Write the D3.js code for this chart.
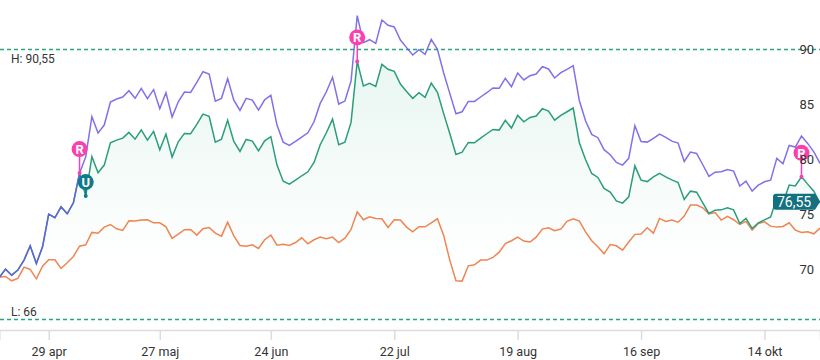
<!DOCTYPE html>
<html>
<head>
<meta charset="utf-8">
<script src="https://cdn.jsdelivr.net/npm/d3@7"></script>
<style>
  html, body { margin: 0; padding: 0; background: #fff; overflow: hidden; }
  svg { display: block; font-family: Roboto, sans-serif; }
</style>
</head>
<body>
<svg id="chart" width="820" height="360"></svg>
<script>
// one value per trading day
const purpleValues = [
  69.82, 70.58, 70.03, 70.49, 71.40, 72.70, 71.09, 72.61, 75.58, 75.25,
  76.25, 75.61, 76.61, 79.31, 80.80, 84.44, 82.95, 83.68, 85.77, 86.05,
  86.23, 86.80, 86.11, 87.02, 86.08, 86.90, 85.17, 86.62, 84.41, 85.80,
  86.68, 86.65, 87.56, 88.53, 88.32, 85.86, 86.11, 87.90, 85.95, 85.01,
  86.11, 85.95, 85.04, 85.98, 86.38, 83.68, 82.13, 81.83, 82.19, 82.59,
  82.98, 83.98, 85.65, 86.71, 88.02, 85.59, 85.86, 87.68, 93.63, 91.17,
  91.44, 91.11, 93.23, 92.75, 92.60, 91.41, 90.72, 90.05, 90.53, 90.11,
  91.47, 90.56, 88.44, 86.56, 84.71, 84.89, 85.83, 85.83, 86.23, 86.62,
  87.05, 87.02, 87.93, 87.17, 88.41, 87.78, 88.17, 88.32, 88.99, 88.78,
  87.96, 88.44, 88.75, 89.08, 85.89, 84.07, 82.83, 82.53, 81.44, 80.98,
  80.28, 80.04, 80.65, 83.62, 82.19, 82.13, 82.47, 82.86, 82.56, 82.22,
  82.04, 80.37, 81.22, 81.10, 80.07, 79.01, 79.40, 79.43, 79.64, 79.49,
  78.13, 78.58, 77.67, 78.22, 78.52, 78.67, 80.65, 80.16, 81.83, 81.68,
  82.68, 82.01, 81.25, 80.19
];

const greenValues = [
  69.82, 70.58, 70.03, 70.49, 71.40, 72.70, 71.09, 72.61, 75.58, 75.25,
  76.25, 75.61, 76.61, 79.31, 77.22, 80.80, 79.34, 80.04, 82.07, 82.31,
  82.49, 83.01, 82.40, 83.25, 82.31, 83.10, 81.43, 82.86, 80.77, 82.16,
  82.92, 82.89, 83.74, 84.68, 84.47, 82.13, 82.40, 84.11, 82.19, 81.28,
  82.37, 82.22, 81.34, 82.25, 82.62, 80.04, 78.58, 78.31, 78.67, 79.07,
  79.43, 80.28, 81.89, 82.98, 84.22, 81.89, 82.13, 83.92, 89.47, 87.23,
  87.47, 87.20, 89.20, 88.75, 88.56, 87.41, 86.74, 86.11, 86.62, 86.20,
  87.50, 86.65, 84.74, 82.92, 81.01, 81.22, 82.10, 82.07, 82.49, 82.89,
  83.28, 83.22, 84.11, 83.41, 84.56, 83.98, 84.37, 84.50, 85.17, 84.95,
  84.13, 84.56, 84.89, 85.23, 82.07, 80.55, 79.28, 78.92, 77.92, 77.58,
  76.79, 76.58, 77.15, 79.97, 78.67, 78.54, 78.97, 79.28, 78.97, 78.70,
  78.46, 76.92, 77.67, 77.58, 76.61, 75.64, 75.94, 75.97, 76.15, 75.97,
  74.73, 75.19, 74.28, 74.79, 75.06, 75.33, 77.03, 76.58, 78.22, 78.15,
  78.97, 78.31, 77.67, 76.58
];

const orangeValues = [
  69.85, 69.91, 69.52, 69.73, 70.76, 70.55, 69.70, 70.85, 71.43, 71.43,
  70.64, 71.16, 71.73, 72.67, 72.79, 73.92, 73.85, 74.40, 74.64, 74.25,
  74.10, 74.98, 74.95, 75.04, 75.07, 74.79, 74.79, 74.43, 73.37, 73.76,
  74.16, 74.19, 73.67, 74.25, 74.37, 73.85, 73.58, 74.85, 73.61, 72.73,
  72.67, 72.79, 72.46, 73.25, 73.67, 72.76, 72.85, 72.73, 73.00, 73.43,
  72.88, 73.25, 73.49, 73.34, 73.49, 73.00, 73.40, 74.19, 75.79, 75.07,
  75.34, 75.19, 75.16, 74.37, 75.07, 75.04, 74.40, 73.97, 74.43, 74.43,
  74.79, 75.16, 73.67, 71.40, 69.52, 69.49, 70.88, 70.97, 71.40, 71.40,
  71.64, 72.12, 72.91, 73.16, 73.49, 73.13, 73.04, 73.49, 74.22, 74.34,
  74.07, 74.22, 74.92, 75.16, 74.95, 73.97, 73.16, 72.61, 71.97, 72.82,
  72.70, 72.31, 73.04, 73.74, 73.77, 74.34, 73.85, 75.19, 74.92, 75.04,
  74.85, 75.40, 76.40, 76.40, 76.16, 75.61, 75.73, 75.04, 75.37, 75.07,
  74.64, 74.92, 74.13, 74.73, 74.88, 74.49, 74.40, 74.46, 74.79, 74.13,
  73.92, 73.97, 73.79, 74.31
];

const xTickDays = [8, 26, 44, 64, 84, 104, 124];
const xTickLabels = ["29 apr", "27 maj", "24 jun", "22 jul", "19 aug", "16 sep", "14 okt"];
const yTicks = [70, 75, 80, 85, 90];

const highValue = 90.55;
const lowValue = 66;
const lastValue = 76.55;
const rMarkerDays = [13, 58, 130];
const uMarkerDays = [14];

const numberFormat = (v) => String(v).replace(".", ",");

const width = 820;
const height = 360;
const axisY = 330;

const x = d3.scaleLinear().domain([0, purpleValues.length - 1]).range([-0.66, width]);
const y = d3.scaleLinear().domain([lowValue, highValue]).range([319.5, 49.5]);

const svg = d3.select("#chart");

const grad = svg.append("defs").append("linearGradient")
  .attr("id", "area-grad")
  .attr("gradientUnits", "userSpaceOnUse")
  .attr("x1", 0).attr("x2", 0)
  .attr("y1", y(89.5)).attr("y2", 265);
grad.append("stop").attr("offset", "0%").attr("stop-color", "#1aa878").attr("stop-opacity", 0.1);
grad.append("stop").attr("offset", "100%").attr("stop-color", "#1aa878").attr("stop-opacity", 0);

// area under the green line
const area = d3.area()
  .x((d, i) => x(i))
  .y0(axisY)
  .y1((d) => y(d));

svg.append("path").datum(greenValues).attr("d", area).attr("fill", "url(#area-grad)");

// H / L lines
[highValue, lowValue].forEach((v) => {
  svg.append("line")
    .attr("x1", 0).attr("x2", width)
    .attr("y1", y(v)).attr("y2", y(v))
    .attr("stroke", "#2aa582")
    .attr("stroke-width", 1.5)
    .attr("stroke-dasharray", "4 3");
});

const line = d3.line().x((d, i) => x(i)).y((d) => y(d));

svg.append("path").datum(orangeValues).attr("d", line)
  .attr("fill", "none").attr("stroke", "#ee8552").attr("stroke-width", 1.5);
svg.append("path").datum(greenValues).attr("d", line)
  .attr("fill", "none").attr("stroke", "#2a9d7c").attr("stroke-width", 1.5);
svg.append("path").datum(purpleValues).attr("d", line)
  .attr("fill", "none").attr("stroke", "#6a58e6").attr("stroke-width", 1.5).attr("stroke-opacity", 0.85);

// markers, head sits above the point on the green line
function marker(day, letter, color, lift, r) {
  const g = svg.append("g").attr("transform", `translate(${x(day)},${y(greenValues[day])})`);
  g.append("line").attr("y1", 0).attr("y2", -lift).attr("stroke", color).attr("stroke-width", 1.5);
  g.append("circle").attr("r", 2).attr("fill", color);
  g.append("circle").attr("cy", -lift).attr("r", r).attr("fill", color);
  g.append("text").attr("y", -lift).attr("dy", "0.36em")
    .attr("text-anchor", "middle").attr("fill", "#fff")
    .attr("font-size", 13).attr("font-weight", 700).text(letter);
}
rMarkerDays.forEach((d) => marker(d, "R", "#fb3fb0", 24, 8));
uMarkerDays.forEach((d) => marker(d, "U", "#0f7a8a", 14, 8));

// x axis
const xAxis = svg.append("g")
  .attr("transform", `translate(0,${axisY})`)
  .call(d3.axisBottom(x).tickValues(xTickDays).tickFormat((d, i) => xTickLabels[i]).tickSize(10).tickPadding(7));
xAxis.select(".domain").attr("stroke", "#dcdcdc").attr("stroke-width", 1.5);
xAxis.selectAll(".tick line").attr("stroke", "#dcdcdc").attr("stroke-width", 1.5);
xAxis.selectAll("text").attr("fill", "#333").attr("font-size", 12.5).attr("font-family", "Roboto, sans-serif");

// y axis, labels sit a little above their value
const yAxis = svg.append("g")
  .attr("transform", "translate(814,0)")
  .call(d3.axisLeft(y).tickValues(yTicks).tickSize(0).tickPadding(0));
yAxis.select(".domain").remove();
yAxis.selectAll("text")
  .attr("y", -6.6)
  .attr("fill", "#333").attr("font-size", 13).attr("font-family", "Roboto, sans-serif");

// H / L text
svg.append("text").attr("x", 11).attr("y", y(highValue) + 5).attr("dy", "0.71em")
  .attr("fill", "#333").attr("font-size", 12).text("H: " + numberFormat(highValue));
svg.append("text").attr("x", 11).attr("y", y(lowValue) - 12).attr("dy", "0.71em")
  .attr("fill", "#333").attr("font-size", 12).text("L: " + numberFormat(lowValue));

// last value tag
const tagY = y(lastValue) - 1.7;
const tag = svg.append("g").attr("transform", `translate(${width},${tagY})`);
tag.append("path")
  .attr("d", "M0 0 L-5 -8 L-44 -8 Q-47 -8 -47 -5 L-47 5 Q-47 8 -44 8 L-5 8 Z")
  .attr("fill", "#14707f");
tag.append("text").attr("x", -26).attr("dy", "0.36em")
  .attr("text-anchor", "middle").attr("fill", "#fff")
  .attr("font-size", 14).text(numberFormat(lastValue));
</script>
</body>
</html>
